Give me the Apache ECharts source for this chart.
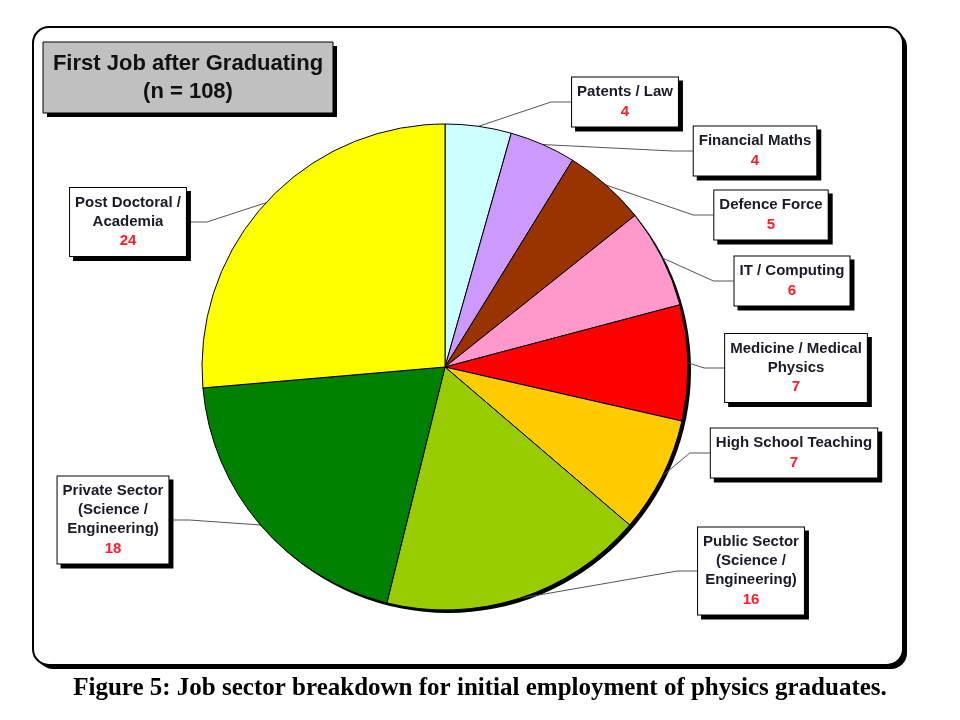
<!DOCTYPE html>
<html>
<head>
<meta charset="utf-8">
<script src="https://cdn.jsdelivr.net/npm/echarts@6/dist/echarts.min.js"></script>
<style>
  html, body { margin: 0; padding: 0; background: #fff; }
  #chart { width: 960px; height: 720px; }
</style>
</head>
<body>
<div id="chart"></div>
<script>
// data
const sectors = [
  'Patents / Law',
  'Financial Maths',
  'Defence Force',
  'IT / Computing',
  'Medicine / Medical\nPhysics',
  'High School Teaching',
  'Public Sector\n(Science /\nEngineering)',
  'Private Sector\n(Science /\nEngineering)',
  'Post Doctoral /\nAcademia'
]
const counts = [4, 4, 5, 6, 7, 7, 16, 18, 24]
const colors = ['#CCFFFF', '#CC99FF', '#993300', '#FF99CC', '#FF0000', '#FFCC00', '#99CC00', '#008000', '#FFFF00']

// where each label box sits (centre)
const labelPos = [
  [625, 102], [755, 151], [771, 215], [792, 281], [796, 368],
  [794, 453], [751, 571], [113, 520], [128, 222]
]

const chart = echarts.init(document.getElementById('chart'))

chart.setOption({
  animation: false,
  graphic: [
    // outer frame: shadow then box
    {
      type: 'rect', z: -20, silent: true,
      shape: { x: 37, y: 31, width: 870, height: 638, r: 16 },
      style: { fill: '#000' }
    },
    {
      type: 'rect', z: -10, silent: true,
      shape: { x: 33, y: 27, width: 870, height: 638, r: 16 },
      style: { fill: '#fff', stroke: '#000', lineWidth: 2 }
    },
    // title box
    {
      type: 'rect', z: 10, silent: true,
      shape: { x: 47, y: 46, width: 290, height: 71 },
      style: { fill: '#000' }
    },
    {
      type: 'rect', z: 11, silent: true,
      shape: { x: 43, y: 42, width: 290, height: 71 },
      style: { fill: '#C0C0C0', stroke: '#000', lineWidth: 1 }
    },
    {
      type: 'text', z: 12, silent: true,
      x: 188, y: 78,
      style: {
        text: 'First Job after Graduating\n(n = 108)',
        font: 'bold 22px "Liberation Sans", Arial, sans-serif',
        lineHeight: 28,
        fill: '#111',
        align: 'center',
        verticalAlign: 'middle'
      }
    },
    {
      type: 'text',
      left: 'center',
      top: 676,
      style: {
        text: 'Figure 5: Job sector breakdown for initial employment of physics graduates.',
        font: 'bold 25px "Liberation Serif", "Times New Roman", serif',
        fill: '#000'
      }
    }
  ],
  series: [
    {
      // shadow disc behind the pie
      type: 'pie',
      silent: true,
      z: 1,
      center: [448, 370],
      radius: 243,
      label: { show: false },
      labelLine: { show: false },
      itemStyle: { color: '#000' },
      data: [1]
    },
    {
      type: 'pie',
      z: 2,
      center: [445, 367],
      radius: 243,
      startAngle: 90,
      clockwise: true,
      itemStyle: { borderColor: '#000', borderWidth: 1 },
      data: sectors.map((s, i) => ({ name: s, value: counts[i], itemStyle: { color: colors[i] } })),
      label: {
        show: true,
        formatter: p => '{n|' + p.name + '}\n{v|' + p.value + '}',
        backgroundColor: '#fff',
        borderColor: '#000',
        borderWidth: 1,
        padding: [5, 5, 5, 5],
        shadowColor: '#000',
        shadowOffsetX: 4,
        shadowOffsetY: 4,
        shadowBlur: 0,
        rich: {
          n: { fontFamily: 'Liberation Sans, Arial', fontWeight: 'bold', fontSize: 15, lineHeight: 19, color: '#1a1a2a', align: 'center' },
          v: { fontFamily: 'Liberation Sans, Arial', fontWeight: 'bold', fontSize: 15, lineHeight: 20, color: '#ff1a2a', align: 'center' }
        }
      },
      labelLine: {
        show: true,
        length: 20,
        length2: 20,
        lineStyle: { color: '#555', width: 1 }
      },
      labelLayout: p => {
        const pos = labelPos[p.dataIndex]
        return { x: pos[0], y: pos[1], align: 'center', verticalAlign: 'middle' }
      }
    }
  ]
})
</script>
</body>
</html>
